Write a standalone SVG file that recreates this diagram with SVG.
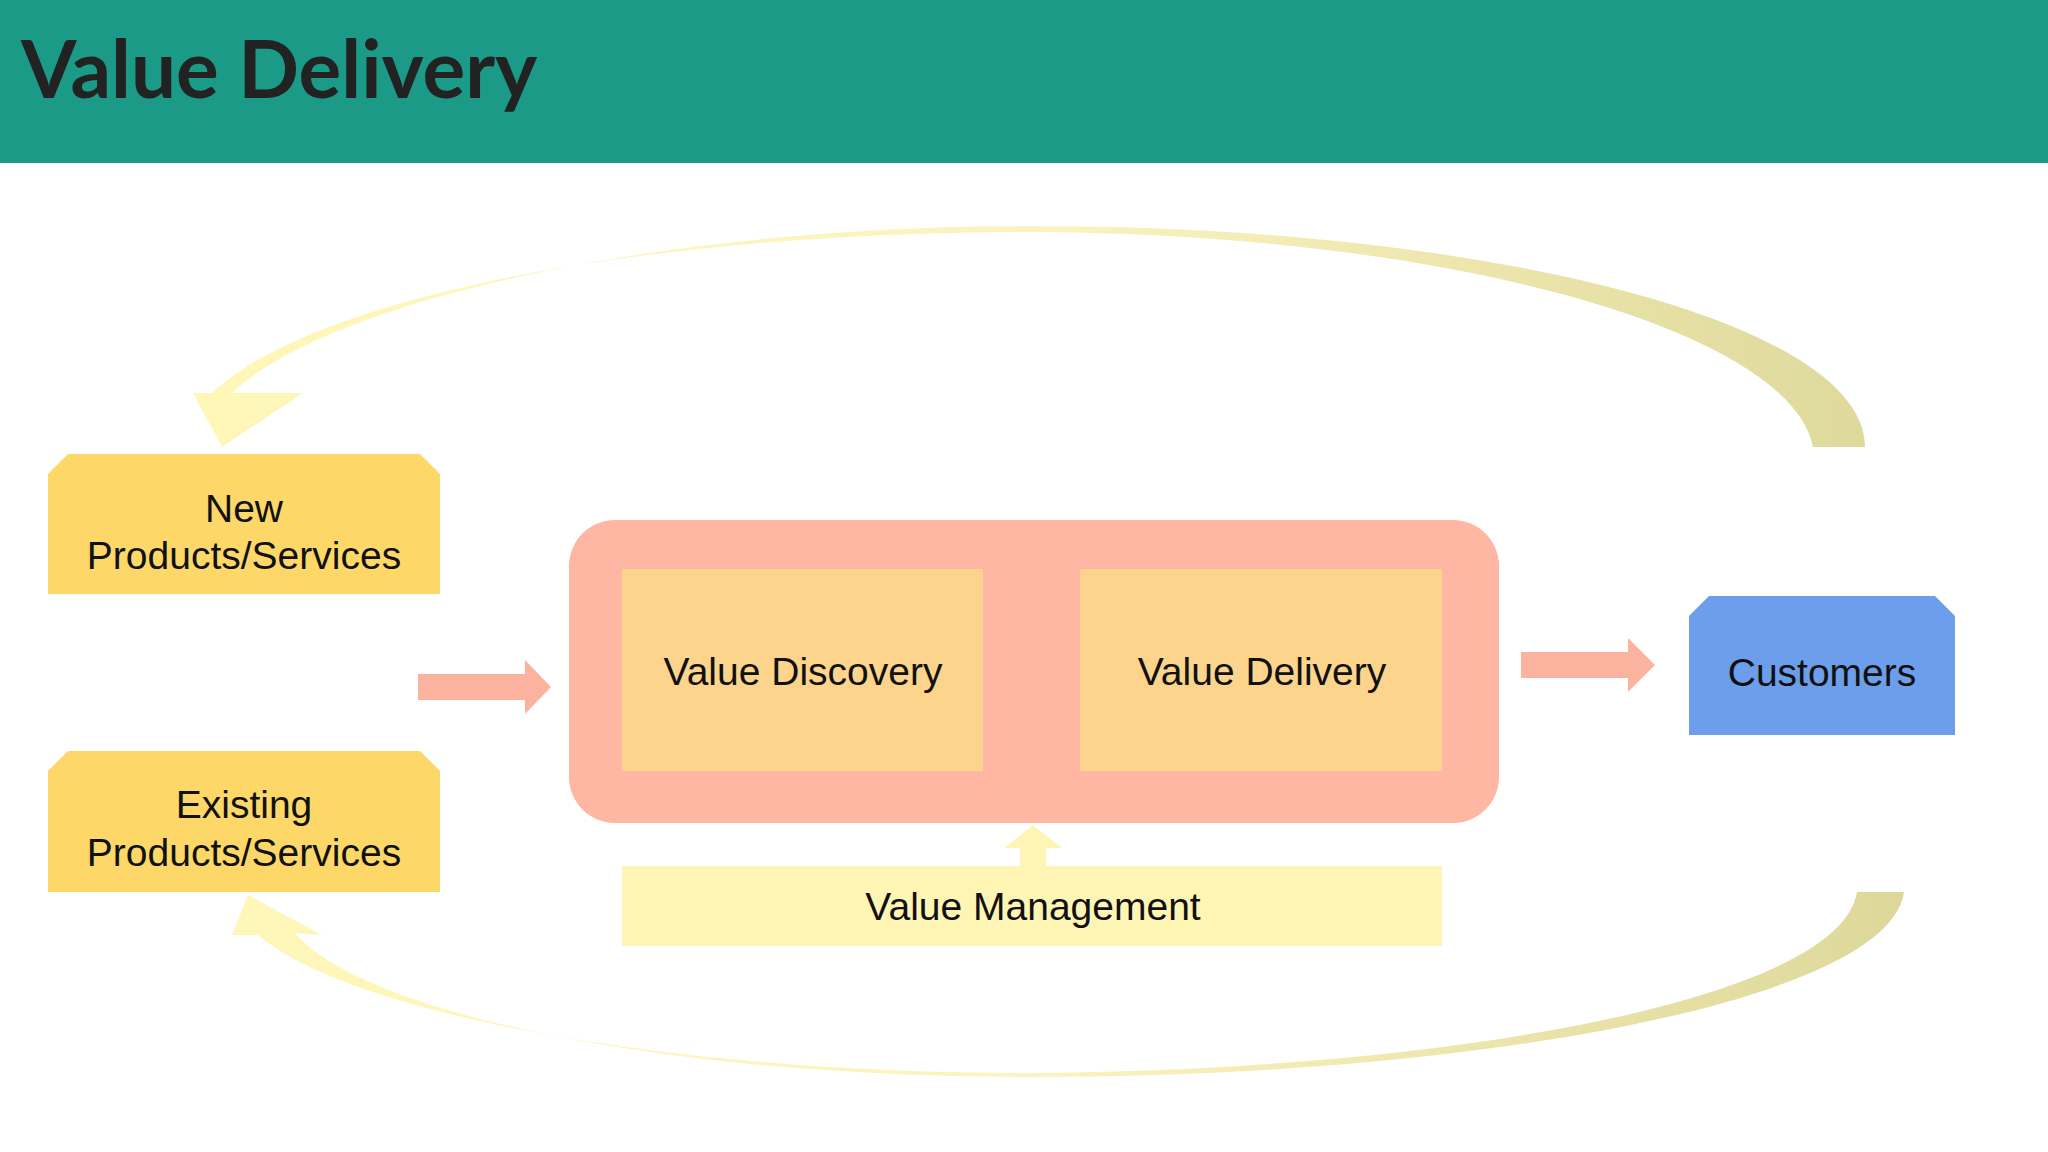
<svg xmlns="http://www.w3.org/2000/svg" width="2048" height="1152" viewBox="0 0 2048 1152">
<defs>
<linearGradient id="g" x1="200" y1="0" x2="1900" y2="0" gradientUnits="userSpaceOnUse">
<stop offset="0" stop-color="#fff7b8"/><stop offset="0.5" stop-color="#fbf3bf"/><stop offset="1" stop-color="#ddd89a"/>
</linearGradient>
</defs>
<style>
text{font-family:"Liberation Sans",Arial,sans-serif;font-size:39px;fill:#111;text-anchor:middle}
.y{fill:#fdd868}
.arr{fill:#fbb3a0}
</style>
<rect width="2048" height="1152" fill="#fff"/>
<rect width="2048" height="163" fill="#1a9a87"/>
<text x="21" y="98" style="font-family:Lato,'Liberation Sans',sans-serif;font-weight:bold;font-size:80px;fill:#222;text-anchor:start">Value Delivery</text>
<g id="connectors">
<path fill="url(#g)" d="M1865,447 C1865,320 1480,226 1032,226 C660,226 330,300 232,393 L303,393 L222,447 L193,393 L212,393 C320,292 660,232 1032,232 C1450,234 1790,330 1813,447 Z"/>
<path fill="url(#g)" d="M1857,892 L1904,892 C1890,1000 1480,1077 1032,1077 C650,1077 360,1010 295,933 L322,935 L248,895 L232,935 L258,935 C345,1010 650,1073 1032,1073 C1450,1070 1840,1000 1857,892 Z"/>
<path class="arr" d="M418,674 L525,674 L525,660 L551,687 L525,714 L525,700 L418,700 Z"/>
<path class="arr" d="M1521,652 L1628,652 L1628,638 L1655,665 L1628,692 L1628,678 L1521,678 Z"/>
<path fill="#fef5b5" d="M1020,866 L1020,848 L1004,848 L1033,825 L1062,848 L1046,848 L1046,866 Z"/>
</g>
<g id="new"><path class="y" d="M68,454 L420,454 L440,474 L440,594 L48,594 L48,474 Z"/><text x="244" y="522">New</text><text x="244" y="569">Products/Services</text></g>
<g id="existing"><path class="y" d="M68,751 L420,751 L440,771 L440,892 L48,892 L48,771 Z"/><text x="244" y="818">Existing</text><text x="244" y="866">Products/Services</text></g>
<g id="group"><rect x="569" y="520" width="930" height="303" rx="46" fill="#ffb6a3"/></g>
<g id="discovery"><rect x="622" y="569" width="361" height="202" fill="#fdd48c"/><text x="803" y="685">Value Discovery</text></g>
<g id="delivery"><rect x="1080" y="569" width="362" height="202" fill="#fdd48c"/><text x="1262" y="685">Value Delivery</text></g>
<g id="management"><rect x="622" y="866" width="820" height="80" fill="#fef5b5"/><text x="1033" y="920">Value Management</text></g>
<g id="customers"><path d="M1709,596 L1935,596 L1955,616 L1955,735 L1689,735 L1689,616 Z" fill="#6d9eeb"/><text x="1822" y="686">Customers</text></g>
</svg>
